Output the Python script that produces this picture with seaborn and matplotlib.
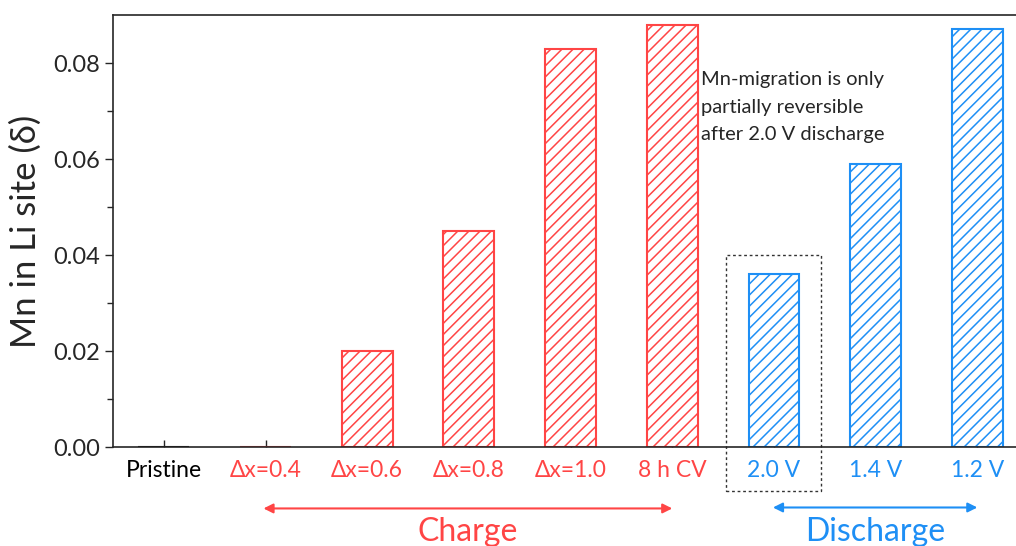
import numpy as np
import pandas as pd
import seaborn as sns
import matplotlib.pyplot as plt
from matplotlib.patches import Rectangle

# data
categories = ['Pristine', 'Δx=0.4', 'Δx=0.6', 'Δx=0.8', 'Δx=1.0', '8 h CV', '2.0 V', '1.4 V', '1.2 V']
mn_li = [0.0, 0.0, 0.020, 0.045, 0.083, 0.088, 0.036, 0.059, 0.087]
stage = ['pristine', 'charge', 'charge', 'charge', 'charge', 'charge', 'discharge', 'discharge', 'discharge']

red = '#FF4545'
blue = '#1E8FF5'
stage_colors = {'pristine': 'black', 'charge': red, 'discharge': blue}

df = pd.DataFrame({'sample': categories, 'mn': mn_li, 'stage': stage})

sns.set_style('ticks')
plt.rcParams['font.family'] = ['Lato', 'DejaVu Sans']
plt.rcParams['hatch.linewidth'] = 1.1

fig = plt.figure(figsize=(10.16, 5.46), dpi=100)
ax = fig.add_axes([0.1112, 0.1813, 0.8888, 0.7912])

sns.barplot(data=df, x='sample', y='mn', hue='sample', width=0.5,
            palette=[stage_colors[s] for s in stage], legend=False, ax=ax)

for p, s in zip(ax.patches, stage):
    c = stage_colors[s]
    p.set_facecolor('white')
    p.set_edgecolor(c)
    p.set_hatch('///')
    p.set_linewidth(1.5)

ax.set_ylim(0, 0.09)
ax.set_xlim(-0.5, 8.38)
ax.set_yticks([0, 0.02, 0.04, 0.06, 0.08])
ax.set_yticks(np.arange(0.01, 0.09, 0.02), minor=True)
ax.set_yticklabels(['0.00', '0.02', '0.04', '0.06', '0.08'], fontsize=17)
ax.tick_params(axis='y', which='major', direction='out', length=6, width=1)
ax.tick_params(axis='y', which='minor', direction='out', length=4, width=1)
ax.tick_params(axis='x', direction='in', length=5, width=1, labelsize=16.5, pad=9)
for lab, s in zip(ax.get_xticklabels(), stage):
    lab.set_color(stage_colors[s])

ax.set_xlabel('')
ax.set_ylabel('Mn in Li site (δ)', fontsize=25, labelpad=8)
ax.spines['right'].set_visible(False)
for sp in ['left', 'bottom', 'top']:
    ax.spines[sp].set_linewidth(1.2)

ax.text(5.28, 0.0708, 'Mn-migration is only\npartially reversible\nafter 2.0 V discharge',
        fontsize=14.5, va='center', ha='left', linespacing=1.75)

# dotted box around 2.0 V bar
box = Rectangle((5.53, -0.0092), 0.93, 0.0492, transform=ax.transData,
                fill=False, edgecolor='#333333', linestyle=(0, (2, 2)), linewidth=1, clip_on=False)
ax.add_patch(box)

# arrows below the axis
ax.annotate('', xy=(0.98, -0.0128), xytext=(5.0, -0.0128),
            arrowprops=dict(arrowstyle='<|-|>', color=red, lw=1.5, mutation_scale=14,
                            shrinkA=0, shrinkB=0),
            annotation_clip=False)
ax.text(2.99, -0.0177, 'Charge', color=red, fontsize=23, ha='center', va='center')
ax.annotate('', xy=(5.99, -0.0126), xytext=(8.0, -0.0126),
            arrowprops=dict(arrowstyle='<|-|>', color=blue, lw=1.5, mutation_scale=14,
                            shrinkA=0, shrinkB=0),
            annotation_clip=False)
ax.text(7.0, -0.0177, 'Discharge', color=blue, fontsize=23, ha='center', va='center')

fig.savefig('out.png', dpi=100)
